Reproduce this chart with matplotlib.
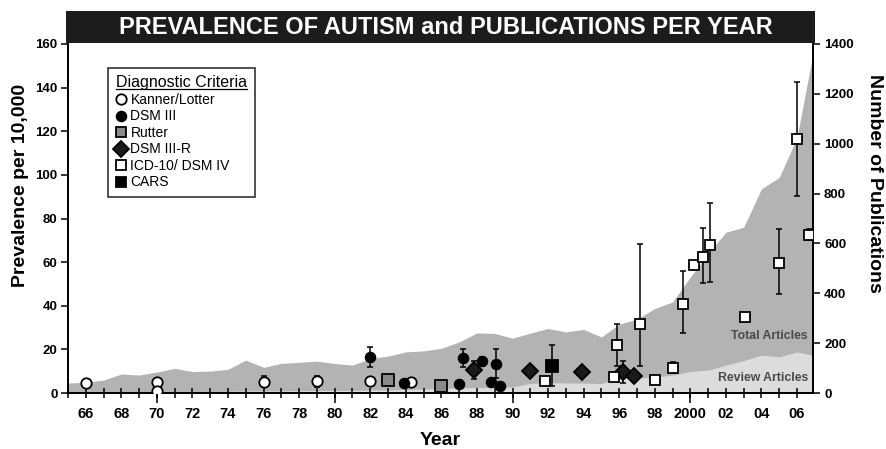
import matplotlib
matplotlib.use("Agg")
import matplotlib.pyplot as plt
from matplotlib.lines import Line2D
from matplotlib.patches import Rectangle
import numpy as np

plt.rcParams['font.family'] = ['Liberation Sans', 'DejaVu Sans']

# ---- publications per year (right axis) ----
pub_years = list(range(1965, 2008))
total_articles = [40, 43, 52, 76, 72, 84, 99, 86, 88, 95,
                  132, 103, 119, 123, 128, 118, 112, 138, 148, 165,
                  169, 179, 205, 241, 239, 220, 240, 259, 245, 255,
                  225, 276, 296, 339, 365, 465, 559, 645, 665, 819,
                  865, 1025, 1400]
review_articles = [3, 3, 4, 4, 5, 5, 6, 6, 6, 7,
                   8, 8, 9, 9, 10, 10, 10, 12, 12, 14,
                   16, 18, 20, 22, 22, 24, 38, 42, 40, 40,
                   38, 58, 60, 64, 72, 86, 92, 112, 130, 152,
                   145, 165, 150]

# ---- prevalence studies (left axis), grouped by diagnostic criteria ----
kanner_year = [1966, 1970, 1970, 1976, 1979, 1982, 1984.3]
kanner_prev = [4.5, 5.0, 0.8, 5.2, 5.4, 5.4, 5.0]
kanner_err = [0, 0, 0, 2.5, 2.5, 0, 0]

dsm3_year = [1982, 1983.9, 1987.0, 1987.2, 1988.3, 1988.8, 1989.05, 1989.3]
dsm3_prev = [16.5, 4.6, 4.0, 16.0, 14.5, 5.0, 13.5, 3.2]
dsm3_err = [4.5, 0, 0, 4.0, 2.0, 0, 6.5, 0]

rutter_year = [1983, 1986]
rutter_prev = [5.8, 3.0]

dsm3r_year = [1987.85, 1991.0, 1993.9, 1996.2, 1996.85]
dsm3r_prev = [10.5, 10.0, 9.5, 9.7, 8.0]
dsm3r_err = [4.2, 0, 0, 5.0, 0]

icd_year = [1991.8, 1995.7, 1995.9, 1997.15, 1998.0, 1999.0, 1999.6,
            2000.2, 2000.7, 2001.1, 2003.1, 2005.0, 2006.0, 2006.7]
icd_prev = [5.6, 7.2, 22.0, 31.5, 6.0, 11.5, 41.0,
            58.7, 62.5, 68.0, 35.0, 59.6, 116.5, 72.5]
icd_err_lo = [0, 0, 9.5, 19, 0, 2.5, 13.5, 0, 12, 17, 0, 14, 26, 2.5]
icd_err_hi = [0, 0, 9.5, 37, 0, 2.5, 15, 0, 13, 19, 0, 15.5, 26, 2.5]

cars_year = [1992.2]
cars_prev = [12.5]
cars_err = [9.5]

year_ticks = list(range(1966, 2007, 2))
year_labels = ['66', '68', '70', '72', '74', '76', '78', '80', '82', '84', '86',
               '88', '90', '92', '94', '96', '98', '2000', '02', '04', '06']
decade_ticks = [1970, 1980, 1990, 2000]

W, H = 886, 449
fig = plt.figure(figsize=(W / 100, H / 100), dpi=100)
x0, x1, ytop, ybot = 68, 813, 44, 393
ax = fig.add_axes([x0 / W, 1 - ybot / H, (x1 - x0) / W, (ybot - ytop) / H])
ax2 = ax.twinx()
ax.set_zorder(ax2.get_zorder() + 1)
ax.patch.set_visible(False)

# publication areas
ax2.fill_between(pub_years, 0, total_articles, color='#b3b3b3', lw=0)
ax2.fill_between(pub_years, 0, review_articles, color='#dcdcdc', lw=0)
ax2.set_ylim(0, 1400)
ax2.set_yticks(range(0, 1401, 200))
ax2.tick_params(axis='y', direction='out', length=5, width=1.1,
                labelsize=9.5, pad=3)
for lab in ax2.get_yticklabels():
    lab.set_fontweight('bold')
ax2.set_ylabel('Number of Publications', fontsize=14, fontweight='bold',
               rotation=-90, va='center')
ax2.yaxis.set_label_coords(1.083, 0.60)

ax2.text(0.993, 0.163, 'Total Articles', transform=ax2.transAxes, ha='right',
         va='center', fontsize=8.8, fontweight='bold', color='#4a4a4a')
ax2.text(0.993, 0.043, 'Review Articles', transform=ax2.transAxes, ha='right',
         va='center', fontsize=8.8, fontweight='bold', color='#4a4a4a')


def bars(xs, ys, lo, hi):
    xs, ys, lo, hi = map(np.asarray, (xs, ys, lo, hi))
    m = (lo > 0) | (hi > 0)
    if m.any():
        ax.errorbar(xs[m], ys[m], yerr=[lo[m], hi[m]], fmt='none',
                    ecolor='black', elinewidth=1.1, capsize=2.2,
                    capthick=1.1, zorder=2)


bars(kanner_year, kanner_prev, kanner_err, kanner_err)
bars(dsm3_year, dsm3_prev, dsm3_err, dsm3_err)
bars(dsm3r_year, dsm3r_prev, dsm3r_err, dsm3r_err)
bars(icd_year, icd_prev, icd_err_lo, icd_err_hi)
bars(cars_year, cars_prev, cars_err, cars_err)

style = dict(ls='none', mec='black', mew=1.3, zorder=3)
ax.plot(kanner_year, kanner_prev, marker='o', ms=7.5, mfc='white', **style)
ax.plot(dsm3_year, dsm3_prev, marker='o', ms=7, mfc='black', **style)
ax.plot(rutter_year, rutter_prev, marker='s', ms=8, mfc='#8a8a8a', **style)
ax.plot(dsm3r_year, dsm3r_prev, marker='D', ms=8.5, mfc='#1a1a1a', **style)
ax.plot(icd_year, icd_prev, marker='s', ms=7.5, mfc='white', **style)
ax.plot(cars_year, cars_prev, marker='s', ms=8, mfc='black', **style)

ax.set_xlim(1965, 2006.9)
ax.set_ylim(0, 160)
ax.set_yticks(range(0, 161, 20))
ax.tick_params(axis='y', direction='out', length=5, width=1.1,
               labelsize=9.5, pad=2.5)
ax.set_xticks(year_ticks)
ax.set_xticklabels(year_labels)
ax.set_xticks(range(1965, 2007), minor=True)
ax.tick_params(axis='x', which='both', direction='inout', length=6.5,
               width=1.1)
ax.tick_params(axis='x', which='major', labelsize=10.5, pad=6.5)
for lab in ax.get_xticklabels() + ax.get_yticklabels():
    lab.set_fontweight('bold')

sec = ax.secondary_xaxis(0)
sec.set_xticks(decade_ticks)
sec.set_xticklabels([''] * len(decade_ticks))
sec.tick_params(axis='x', direction='out', length=7.5, width=1.1)
sec.spines['bottom'].set_visible(False)

for a in (ax, ax2):
    a.spines['top'].set_visible(False)
    for s in ('left', 'right', 'bottom'):
        a.spines[s].set_linewidth(1.3)

ax.set_xlabel('Year', fontsize=14, fontweight='bold', labelpad=8)
ax.set_ylabel('Prevalence per 10,000', fontsize=14, fontweight='bold',
              va='center')
ax.yaxis.set_label_coords(-0.064, 0.596)

# legend
handles = [
    Line2D([], [], ls='none', marker='o', ms=7.5, mfc='white', mec='black', mew=1.3),
    Line2D([], [], ls='none', marker='o', ms=7, mfc='black', mec='black', mew=1.3),
    Line2D([], [], ls='none', marker='s', ms=7.5, mfc='#8a8a8a', mec='black', mew=1.3),
    Line2D([], [], ls='none', marker='D', ms=8, mfc='#1a1a1a', mec='black', mew=1.3),
    Line2D([], [], ls='none', marker='s', ms=7, mfc='white', mec='black', mew=1.3),
    Line2D([], [], ls='none', marker='s', ms=7, mfc='black', mec='black', mew=1.3),
]
labels = ['Kanner/Lotter', 'DSM III', 'Rutter', 'DSM III-R', 'ICD-10/ DSM IV', 'CARS']
leg = ax.legend(handles, labels, title='Diagnostic Criteria', loc='upper left',
                bbox_to_anchor=(0.054, 0.932), fontsize=10, title_fontsize=11.5,
                frameon=True, fancybox=False, framealpha=1, edgecolor='#333333',
                handlelength=0.7, handletextpad=0.35, labelspacing=0.18,
                borderpad=0.55, borderaxespad=0)
leg.get_frame().set_linewidth(1.2)
leg._legend_box.align = 'left'

# title bar
fig.patches.append(Rectangle((66 / W, 1 - 43 / H), (815 - 66) / W, 32 / H,
                             transform=fig.transFigure, facecolor='#1c1c1c',
                             edgecolor='none', zorder=5))
fig.text(446 / W, 1 - 27 / H, 'PREVALENCE OF AUTISM and PUBLICATIONS PER YEAR',
         ha='center', va='center', color='white', fontsize=17,
         fontweight='bold', zorder=6)

# underline the legend title
fig.canvas.draw()
bb = leg.get_title().get_window_extent()
inv = fig.transFigure.inverted()
(lx0, ly0), (lx1, _) = inv.transform([(bb.x0, bb.y0 + 1), (bb.x1, bb.y0 + 1)])
fig.add_artist(Line2D([lx0, lx1], [ly0, ly0], transform=fig.transFigure,
                      color='black', lw=0.9))

fig.savefig('out.png', dpi=100)
